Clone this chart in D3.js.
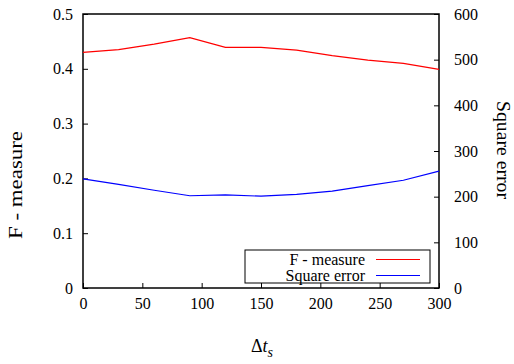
<!DOCTYPE html>
<html>
<head>
<meta charset="utf-8">
<script src="https://cdn.jsdelivr.net/npm/d3@7"></script>
<style>
  body { margin: 0; background: #fff; }
  svg text { font-family: "Liberation Serif", "Times New Roman", serif; fill: #000; }
</style>
</head>
<body>
<div id="chart"></div>
<script>
// данные
var deltaTs = [0, 30, 60, 90, 120, 150, 180, 210, 240, 270, 300];
var fMeasure = [0.430, 0.435, 0.445, 0.457, 0.439, 0.439, 0.434, 0.424, 0.416, 0.410, 0.399];
var squareError = [239, 227, 214, 202, 204, 201, 205, 212, 224, 236, 256];
var xTicks = [0, 50, 100, 150, 200, 250, 300];
var yTicks = [0, 0.1, 0.2, 0.3, 0.4, 0.5];
var y2Ticks = [0, 100, 200, 300, 400, 500, 600];

var FONT = "'Liberation Serif', 'Times New Roman', serif";

var width = 514, height = 364;
var m = {left: 83, right: 75, top: 14, bottom: 76};
var x0 = m.left, x1 = width - m.right, y0 = height - m.bottom, y1 = m.top;

var x = d3.scaleLinear().domain([0, 300]).range([x0, x1]);
var y = d3.scaleLinear().domain([0, 0.5]).range([y0, y1]);
var y2 = d3.scaleLinear().domain([0, 600]).range([y0, y1]);

var svg = d3.select("#chart").append("svg")
    .attr("width", width)
    .attr("height", height)
    .style("font-family", FONT);

// оси — тики внутрь, как в gnuplot
svg.append("g")
    .attr("transform", "translate(0," + y0 + ")")
    .call(d3.axisBottom(x).tickValues(xTicks).tickSize(-5).tickPadding(10).tickFormat(d3.format("d")));
svg.append("g")
    .attr("transform", "translate(" + x0 + ",0)")
    .call(d3.axisLeft(y).tickValues(yTicks).tickSize(-5).tickPadding(10)
        .tickFormat(function (d) { return d === 0 ? "0" : d3.format(".1f")(d); }));
svg.append("g")
    .attr("transform", "translate(" + x1 + ",0)")
    .call(d3.axisRight(y2).tickValues(y2Ticks).tickSize(-5).tickPadding(15).tickFormat(d3.format("d")));

svg.selectAll(".domain").remove();
svg.selectAll(".tick line").attr("stroke", "#000");
svg.selectAll("g").attr("font-family", null).attr("font-size", null);
svg.selectAll(".tick text").style("font-size", "16px").style("font-family", FONT);

// рамка
svg.append("rect")
    .attr("x", x0).attr("y", y1)
    .attr("width", x1 - x0).attr("height", y0 - y1)
    .attr("fill", "none").attr("stroke", "#000").attr("stroke-width", 1.5);

var lineF = d3.line()
    .x(function (d, i) { return x(deltaTs[i]); })
    .y(function (d) { return y(d); });
var lineE = d3.line()
    .x(function (d, i) { return x(deltaTs[i]); })
    .y(function (d) { return y2(d); });

svg.append("path").datum(fMeasure)
    .attr("d", lineF).attr("fill", "none").attr("stroke", "#ff0000").attr("stroke-width", 1.2);
svg.append("path").datum(squareError)
    .attr("d", lineE).attr("fill", "none").attr("stroke", "#0000ff").attr("stroke-width", 1.2);

// легенда
var legend = svg.append("g");
legend.append("rect")
    .attr("x", 245).attr("y", 250).attr("width", 185).attr("height", 33)
    .attr("fill", "#fff").attr("stroke", "#000").attr("stroke-width", 1);
var items = [["F - measure", "#ff0000"], ["Square error", "#0000ff"]];
items.forEach(function (it, i) {
    var cy = 259.5 + i * 16;
    legend.append("text").attr("x", 365).attr("y", cy).attr("dy", "0.35em")
        .attr("text-anchor", "end").style("font-size", "16px").text(it[0]);
    legend.append("line").attr("x1", 376).attr("x2", 420).attr("y1", cy).attr("y2", cy)
        .attr("stroke", it[1]).attr("stroke-width", 1.2);
});

// подписи осей
svg.append("text")
    .attr("transform", "translate(22,185) rotate(-90)")
    .attr("text-anchor", "middle").style("font-size", "18px")
    .attr("textLength", 108).attr("lengthAdjust", "spacingAndGlyphs")
    .text("F - measure");
svg.append("text")
    .attr("transform", "translate(497,150) rotate(90)")
    .attr("text-anchor", "middle").style("font-size", "18px")
    .attr("textLength", 98).attr("lengthAdjust", "spacingAndGlyphs")
    .text("Square error");
var xl = svg.append("text")
    .attr("x", 262).attr("y", 352)
    .attr("text-anchor", "middle").style("font-size", "18px");
xl.append("tspan").text("Δ");
xl.append("tspan").attr("font-style", "italic").text("t");
xl.append("tspan").attr("font-style", "italic").attr("dy", 5).style("font-size", "14px").text("s");
</script>
</body>
</html>
